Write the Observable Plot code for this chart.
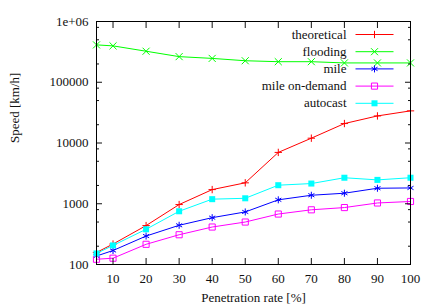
<!DOCTYPE html>
<html><head><meta charset="utf-8">
<script src="https://cdn.jsdelivr.net/npm/d3@7"></script>
<script src="https://cdn.jsdelivr.net/npm/@observablehq/plot@0.6"></script>
<style>
body{margin:0;background:#fff;}
svg, svg text { font-family: "Liberation Serif", "DejaVu Serif", serif !important; }
</style>
</head><body><div id="chart"></div>
<script>
const rates = [5, 10, 20, 30, 40, 50, 60, 70, 80, 90, 100];
const theoretical = [158, 217, 437, 970, 1710, 2210, 7000, 12000, 20900, 27900, 33800];
const flooding = [412000, 397000, 324000, 264000, 247000, 226000, 218000, 218000, 208000, 208000, 208000];
const mile = [138, 170, 294, 442, 590, 733, 1160, 1380, 1490, 1800, 1820];
const mileOnDemand = [122, 127, 215, 309, 414, 500, 677, 795, 865, 1030, 1090];
const autocast = [152, 206, 380, 752, 1190, 1230, 2020, 2150, 2680, 2470, 2680];

const seriesNames = ["theoretical", "flooding", "mile", "mile on-demand", "autocast"];
const seriesValues = [theoretical, flooding, mile, mileOnDemand, autocast];
const seriesColors = ["#ff0000", "#00ff00", "#0000ff", "#ff00ff", "#00ffff"];
const seriesSymbols = ["plus", "times", "asterisk", "square2", "square"];
const seriesSymbolR = [2.5, 3.3, 3.3, 3.9, 3.4];
const seriesFilled = [false, false, false, false, true];

const xTicks = [10, 20, 30, 40, 50, 60, 70, 80, 90, 100];
const yTicks = [100, 1000, 10000, 100000, 1000000];
const yTickLabels = ["100", "1000", "10000", "100000", "1e+06"];
const yMinorTicks = [];
for (const dec of [100, 1000, 10000, 100000]) for (const m of [2, 5, 8]) yMinorTicks.push(dec * m);

const lineSymbol = {draw(ctx) { ctx.moveTo(-19, 0); ctx.lineTo(19, 0); }};

const marks = [];
seriesNames.forEach((name, s) => {
  const rows = rates.map((r, i) => ({rate: r, speed: seriesValues[s][i]}));
  const markOpts = {r: seriesSymbolR[s], symbol: seriesSymbols[s],
    stroke: seriesFilled[s] ? "none" : seriesColors[s], fill: seriesFilled[s] ? seriesColors[s] : "none", strokeWidth: 1};
  marks.push(Plot.line(rows, {x: "rate", y: "speed", stroke: seriesColors[s], strokeWidth: 1}));
  marks.push(Plot.dot(rows, {x: "rate", y: "speed", ...markOpts}));
  const dy = 13 + 17.2 * s;
  marks.push(Plot.text([name], {text: d => d, frameAnchor: "top-right", lineAnchor: "middle", dx: -64, dy, textAnchor: "end", fill: "#111", fontSize: 13}));
  marks.push(Plot.dot([name], {frameAnchor: "top-right", dx: -36, dy, symbol: lineSymbol, stroke: seriesColors[s], fill: "none", strokeWidth: 1}));
  marks.push(Plot.dot([name], {frameAnchor: "top-right", dx: -36, dy, ...markOpts}));
});

const chart = Plot.plot({
  width: 422,
  height: 305,
  marginTop: 21,
  marginBottom: 41,
  marginLeft: 96,
  marginRight: 12,
  style: {fontSize: "13px", color: "#111", background: "#fff"},
  x: {domain: [5, 100]},
  y: {type: "log", domain: [100, 1000000]},
  marks: [
    ...marks,
    Plot.axisX(xTicks, {anchor: "bottom", tickSize: -6, tickPadding: 15, label: null, fontSize: 13}),
    Plot.axisX(xTicks, {anchor: "top", tickSize: -6, tickFormat: () => "", label: null}),
    Plot.axisY(yTicks, {anchor: "left", tickSize: -6, tickPadding: 14, tickFormat: d => yTickLabels[yTicks.indexOf(d)], label: null, fontSize: 13}),
    Plot.axisY(yTicks, {anchor: "right", tickSize: -6, tickFormat: () => "", label: null}),
    Plot.axisY(yMinorTicks, {anchor: "left", tickSize: -3, tickFormat: () => "", label: null}),
    Plot.axisY(yMinorTicks, {anchor: "right", tickSize: -3, tickFormat: () => "", label: null}),
    Plot.frame({stroke: "#000", strokeWidth: 1}),
    Plot.text(["Penetration rate [%]"], {text: d => d, frameAnchor: "bottom", lineAnchor: "middle", dy: 33, fontSize: 13, fill: "#111"}),
    Plot.text(["Speed [km/h]"], {text: d => d, frameAnchor: "left", dx: -82, rotate: -90, fontSize: 13, fill: "#111"})
  ]
});
document.getElementById("chart").appendChild(chart);
</script>
</body></html>
